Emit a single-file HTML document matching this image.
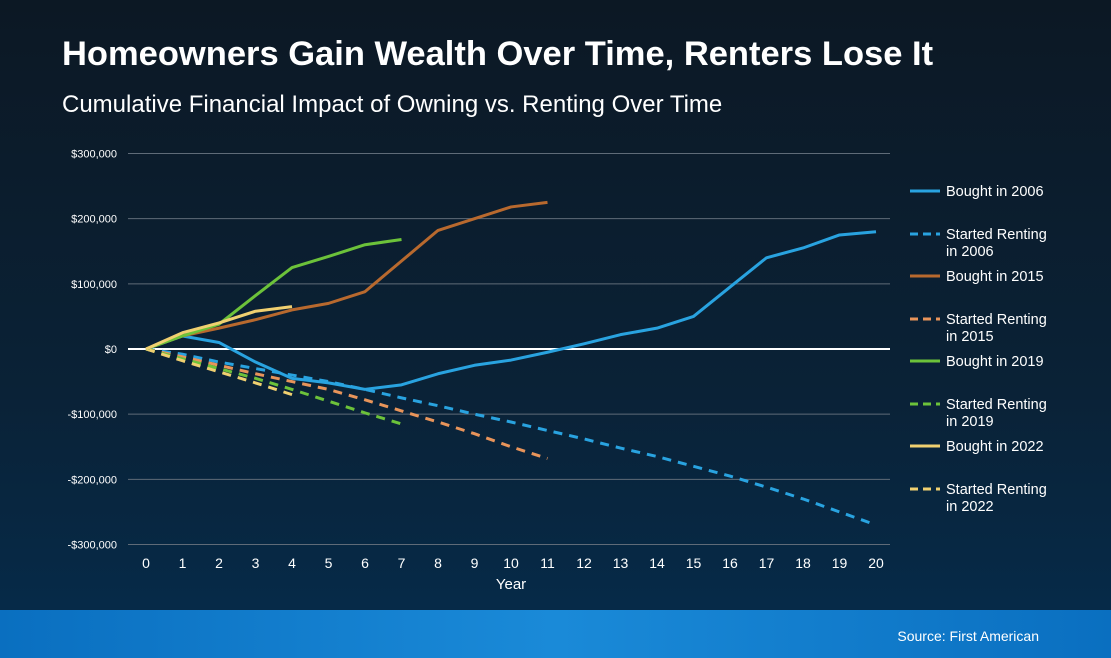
<!DOCTYPE html>
<html><head><meta charset="utf-8"><style>
html,body{margin:0;padding:0;width:1111px;height:658px;overflow:hidden}
body{font-family:"Liberation Sans",Arial,sans-serif;background:linear-gradient(180deg,#0c1824 0%,#0a2237 60%,#062a48 92%);position:relative}
#title{position:absolute;left:62px;top:35px;color:#fff;font-weight:bold;font-size:34.5px;white-space:nowrap}
#sub{position:absolute;left:62px;top:91px;color:#fff;font-size:24px;white-space:nowrap}
#band{position:absolute;left:0;top:610px;width:1111px;height:48px;background:linear-gradient(90deg,#0a6fc0,#1a8ad8 50%,#0a6fc0)}
#src{position:absolute;right:72px;top:18px;color:#fff;font-size:14px}
svg{position:absolute;left:0;top:0}
</style></head><body>
<div id="title">Homeowners Gain Wealth Over Time, Renters Lose It</div>
<div id="sub">Cumulative Financial Impact of Owning vs. Renting Over Time</div>
<div id="band"><div id="src">Source: First American</div></div>
<svg id="chart" width="1111" height="610"></svg>
<script>
const years=[0,1,2,3,4,5,6,7,8,9,10,11,12,13,14,15,16,17,18,19,20];
const yTicks=[300000,200000,100000,0,-100000,-200000,-300000];
const yTickLabels=["$300,000","$200,000","$100,000","$0","-$100,000","-$200,000","-$300,000"];
const bought2006=[0,20,10,-20,-45,-52,-62,-55,-38,-25,-17,-5,8,22,32,50,95,140,155,175,180];
const rent2006=[0,-8,-20,-30,-40,-50,-62,-75,-87,-100,-112,-125,-138,-152,-165,-180,-195,-212,-230,-250,-270];
const bought2015=[0,20,32,45,60,70,88,135,182,200,218,225];
const rent2015=[0,-12,-25,-38,-50,-62,-78,-95,-112,-130,-150,-168];
const bought2019=[0,20,38,82,125,142,160,168];
const rent2019=[0,-15,-30,-45,-62,-80,-98,-115];
const bought2022=[0,25,40,58,65];
const rent2022=[0,-18,-35,-52,-70];
const series=[
 {name:"Bought in 2006",v:bought2006,c:"#29a3e0",d:false,id:"bought-2006"},
 {name:"Started Renting in 2006",v:rent2006,c:"#29a3e0",d:true,id:"renting-2006"},
 {name:"Bought in 2015",v:bought2015,c:"#b8692e",d:false,id:"bought-2015"},
 {name:"Started Renting in 2015",v:rent2015,c:"#e8945a",d:true,id:"renting-2015"},
 {name:"Bought in 2019",v:bought2019,c:"#6cc23a",d:false,id:"bought-2019"},
 {name:"Started Renting in 2019",v:rent2019,c:"#6cc23a",d:true,id:"renting-2019"},
 {name:"Bought in 2022",v:bought2022,c:"#f0d070",d:false,id:"bought-2022"},
 {name:"Started Renting in 2022",v:rent2022,c:"#f0d070",d:true,id:"renting-2022"}];
const svg=document.getElementById('chart');const NS="http://www.w3.org/2000/svg";
const X=i=>146+i*36.5;const Y=v=>349-v*0.6517/1000;
function mk(t,a,p){const e=document.createElementNS(NS,t);for(const k in a)e.setAttribute(k,a[k]);(p||svg).appendChild(e);return e;}
yTicks.forEach((t,i)=>{
 const l=mk('line',{x1:128,x2:890,y1:Y(t),y2:Y(t),stroke:t===0?'#ffffff':'#5f6b78','stroke-width':t===0?2:1});
 
 
 const tx=mk('text',{x:117,y:Y(t)+4,'text-anchor':'end',fill:'#fff','font-size':11});tx.textContent=yTickLabels[i];
 
 
});
years.forEach(y=>{const tx=mk('text',{x:X(y),y:568,'text-anchor':'middle',fill:'#fff','font-size':14});tx.textContent=y;
 
 });
const xt=mk('text',{x:511,y:589,'text-anchor':'middle',fill:'#fff','font-size':15});xt.textContent='Year';


const order=[1,3,5,7,0,2,4,6];
order.forEach(k=>{const s=series[k];
 const p=mk('polyline',{points:s.v.map((v,i)=>X(i)+','+Y(v*1000)).join(' '),fill:'none',stroke:s.c,'stroke-width':3,'stroke-linejoin':'round','stroke-dasharray':s.d?'9,7':'none'});
 
 
});
const ly=[191,234,276,319,361,404,446,489];
series.forEach((s,i)=>{
 const g=mk('g',{});
 
 
 mk('line',{x1:910,x2:940,y1:ly[i],y2:ly[i],stroke:s.c,'stroke-width':3,'stroke-dasharray':s.d?'8,5':'none'},g);
 const parts=s.d?[s.name.replace(/ in \d+$/,''),s.name.match(/in \d+$/)[0]]:[s.name];
 parts.forEach((p,j)=>{const t=mk('text',{x:946,y:ly[i]+5+j*17,fill:'#fff','font-size':14.5},g);t.textContent=p;});
});
</script>
</body></html>
